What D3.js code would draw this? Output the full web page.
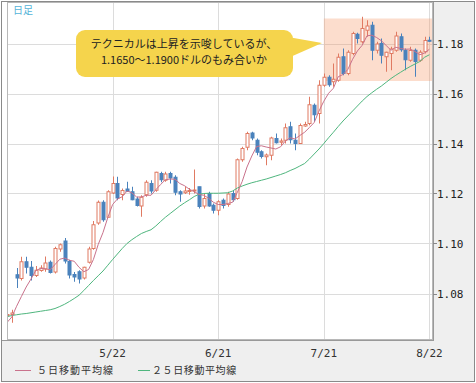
<!DOCTYPE html>
<html><head><meta charset="utf-8">
<script src="https://cdn.jsdelivr.net/npm/d3@7"></script>
<style>html,body{margin:0;padding:0;background:#fff}svg{display:block}</style>
</head><body>
<script>
const dates = ["4/20","4/21","4/24","4/25","4/26","4/27","4/28","5/1","5/2","5/3","5/4","5/5","5/8","5/9","5/10","5/11","5/12","5/15","5/16","5/17","5/18","5/19","5/22","5/23","5/24","5/25","5/26","5/29","5/30","5/31","6/1","6/2","6/5","6/6","6/7","6/8","6/9","6/12","6/13","6/14","6/15","6/16","6/19","6/20","6/21","6/22","6/23","6/26","6/27","6/28","6/29","6/30","7/3","7/4","7/5","7/6","7/7","7/10","7/11","7/12","7/13","7/14","7/17","7/18","7/19","7/20","7/21","7/24","7/25","7/26","7/27","7/28","7/31","8/1","8/2","8/3","8/4","8/7","8/8","8/9","8/10","8/11","8/14","8/15","8/16","8/17","8/18","8/21","8/22"];
const opens = [1.0712,1.0716,1.0875,1.0860,1.0927,1.0905,1.0872,1.0892,1.0898,1.0925,1.0886,1.0978,1.1010,1.0928,1.0876,1.0887,1.0862,1.0925,1.0980,1.1082,1.1165,1.1105,1.1202,1.1240,1.1196,1.1218,1.1207,1.1178,1.1150,1.1195,1.1240,1.1213,1.1280,1.1253,1.1280,1.1265,1.1207,1.1203,1.1208,1.1210,1.1227,1.1150,1.1200,1.1153,1.1133,1.1173,1.1156,1.1200,1.1180,1.1335,1.1385,1.1442,1.1413,1.1367,1.1347,1.1353,1.1420,1.1405,1.1413,1.1467,1.1413,1.1400,1.1470,1.1480,1.1553,1.1520,1.1633,1.1665,1.1647,1.1653,1.1747,1.1680,1.1760,1.1837,1.1807,1.1853,1.1873,1.1773,1.1800,1.1747,1.1760,1.1773,1.1827,1.1773,1.1733,1.1773,1.1733,1.1767,1.1813];
const highs = [1.0775,1.0735,1.0902,1.0947,1.0947,1.0930,1.0910,1.0913,1.0948,1.0932,1.0987,1.1000,1.1022,1.0935,1.0886,1.0893,1.0907,1.0987,1.1090,1.1172,1.1173,1.1213,1.1268,1.1267,1.1220,1.1247,1.1227,1.1187,1.1193,1.1253,1.1253,1.1287,1.1287,1.1287,1.1287,1.1273,1.1213,1.1227,1.1222,1.1296,1.1227,1.1200,1.1207,1.1160,1.1173,1.1180,1.1207,1.1213,1.1340,1.1387,1.1447,1.1447,1.1420,1.1373,1.1360,1.1427,1.1440,1.1420,1.1480,1.1487,1.1440,1.1480,1.1487,1.1587,1.1560,1.1653,1.1680,1.1673,1.1720,1.1760,1.1780,1.1773,1.1847,1.1843,1.1907,1.1893,1.1887,1.1807,1.1820,1.1767,1.1787,1.1847,1.1840,1.1780,1.1787,1.1780,1.1773,1.1827,1.1827];
const lows = [1.0702,1.0683,1.0822,1.0852,1.0880,1.0852,1.0866,1.0887,1.0887,1.0880,1.0880,1.0967,1.0920,1.0860,1.0847,1.0840,1.0856,1.0920,1.0975,1.1075,1.1087,1.1105,1.1198,1.1173,1.1173,1.1207,1.1173,1.1148,1.1107,1.1187,1.1200,1.1207,1.1245,1.1247,1.1240,1.1193,1.1167,1.1198,1.1195,1.1200,1.1140,1.1140,1.1147,1.1120,1.1113,1.1140,1.1147,1.1167,1.1175,1.1327,1.1373,1.1413,1.1353,1.1340,1.1313,1.1333,1.1400,1.1393,1.1400,1.1400,1.1373,1.1400,1.1467,1.1473,1.1487,1.1480,1.1627,1.1627,1.1627,1.1647,1.1673,1.1673,1.1753,1.1800,1.1800,1.1827,1.1733,1.1760,1.1720,1.1687,1.1693,1.1767,1.1767,1.1693,1.1727,1.1667,1.1727,1.1760,1.1807];
const closes = [1.0716,1.0722,1.0862,1.0927,1.0905,1.0872,1.0893,1.0902,1.0922,1.0884,1.0980,1.0995,1.0930,1.0874,1.0866,1.0858,1.0905,1.0978,1.1075,1.1165,1.1095,1.1207,1.1240,1.1182,1.1212,1.1208,1.1175,1.1152,1.1185,1.1245,1.1210,1.1285,1.1255,1.1278,1.1262,1.1205,1.1198,1.1210,1.1212,1.1214,1.1148,1.1180,1.1150,1.1133,1.1167,1.1152,1.1198,1.1175,1.1335,1.1380,1.1440,1.1422,1.1365,1.1348,1.1354,1.1422,1.1403,1.1410,1.1463,1.1415,1.1400,1.1472,1.1476,1.1555,1.1515,1.1633,1.1665,1.1635,1.1657,1.1745,1.1680,1.1765,1.1840,1.1820,1.1860,1.1870,1.1773,1.1798,1.1753,1.1765,1.1778,1.1830,1.1775,1.1735,1.1772,1.1728,1.1765,1.1812,1.1810];
const ma5 = [1.0684,1.0706,1.0749,1.0788,1.0826,1.0858,1.0892,1.0900,1.0899,1.0895,1.0916,1.0937,1.0942,1.0933,1.0929,1.0905,1.0887,1.0896,1.0936,1.0996,1.1044,1.1104,1.1156,1.1178,1.1187,1.1210,1.1203,1.1186,1.1186,1.1193,1.1193,1.1215,1.1236,1.1255,1.1258,1.1257,1.1240,1.1231,1.1217,1.1208,1.1196,1.1193,1.1181,1.1165,1.1156,1.1156,1.1160,1.1165,1.1205,1.1248,1.1306,1.1350,1.1388,1.1391,1.1386,1.1382,1.1378,1.1387,1.1410,1.1423,1.1418,1.1432,1.1445,1.1464,1.1484,1.1530,1.1569,1.1601,1.1621,1.1667,1.1676,1.1696,1.1737,1.1770,1.1793,1.1831,1.1833,1.1824,1.1811,1.1792,1.1773,1.1785,1.1780,1.1777,1.1778,1.1768,1.1755,1.1762,1.1777];
const ma25 = [1.0707,1.0712,1.0715,1.0718,1.0720,1.0723,1.0726,1.0729,1.0732,1.0735,1.0740,1.0748,1.0757,1.0768,1.0780,1.0793,1.0812,1.0832,1.0852,1.0871,1.0890,1.0913,1.0936,1.0958,1.0980,1.1000,1.1015,1.1028,1.1040,1.1048,1.1055,1.1070,1.1088,1.1105,1.1120,1.1135,1.1150,1.1163,1.1175,1.1188,1.1197,1.1200,1.1201,1.1201,1.1201,1.1202,1.1203,1.1210,1.1222,1.1230,1.1237,1.1243,1.1248,1.1253,1.1258,1.1264,1.1270,1.1276,1.1283,1.1292,1.1300,1.1310,1.1320,1.1338,1.1358,1.1378,1.1400,1.1423,1.1445,1.1468,1.1490,1.1510,1.1530,1.1550,1.1570,1.1588,1.1603,1.1617,1.1630,1.1645,1.1660,1.1673,1.1685,1.1697,1.1708,1.1718,1.1728,1.1745,1.1755];
const tickDates = ["5/22","6/21","7/21","8/22"];
const yTicks = [1.08,1.10,1.12,1.14,1.16,1.18];
const bandRange = [1.165, 1.19];
const bandStart = "7/21";
const noteLines = ["テクニカルは上昇を示唆しているが、","1.1650～1.1900ドルのもみ合いか"];
const periodLabel = "日足";
const legendLabels = ["５日移動平均線","２５日移動平均線"];

const W = 476, H = 383;
const L = 7, R = 433, T = 2, B = 340;
const upColor = "#e07a62", downColor = "#4a82bc";
const ma5Color = "#c9728c", ma25Color = "#4fb67e";

const svg = d3.select("body").append("svg").attr("width", W).attr("height", H);

// panels
svg.append("rect").attr("x",1.5).attr("y",1.5).attr("width",W-3).attr("height",H-3).attr("fill","#fff").attr("stroke","#8a8a8a");
svg.append("rect").attr("x",R).attr("y",2).attr("width",W-2-R).attr("height",B-2).attr("fill","#efefef");
svg.append("rect").attr("x",2).attr("y",B).attr("width",W-4).attr("height",H-2-B).attr("fill","#efefef");

const x = d3.scalePoint().domain(dates).range([7, 429.4]);
const y = d3.scaleLinear().domain([1.08, 1.18]).range([293.5, 43.5]);

svg.append("defs").append("clipPath").attr("id","clip")
  .append("rect").attr("x",L).attr("y",T).attr("width",R-L).attr("height",B-T);

// grid
const grid = svg.append("g");
grid.selectAll("line.h").data(yTicks).join("line")
  .attr("x1",L).attr("x2",R).attr("y1",d=>Math.round(y(d))+0.5).attr("y2",d=>Math.round(y(d))+0.5)
  .attr("stroke","#dcdcdc");
grid.selectAll("line.v").data(tickDates).join("line")
  .attr("x1",d=>Math.round(x(d))+0.5).attr("x2",d=>Math.round(x(d))+0.5).attr("y1",T).attr("y2",B)
  .attr("stroke","#dcdcdc");

const plot = svg.append("g").attr("clip-path","url(#clip)");

// highlight band
plot.append("rect")
  .attr("x", x(bandStart)).attr("width", R - x(bandStart))
  .attr("y", y(bandRange[1])).attr("height", y(bandRange[0]) - y(bandRange[1]))
  .attr("fill", "rgba(245,150,100,0.32)");

const idx = d3.range(dates.length);
// wicks
plot.selectAll("line.wick").data(idx).join("line")
  .attr("x1", i=>Math.round(x(dates[i]))+0.5).attr("x2", i=>Math.round(x(dates[i]))+0.5)
  .attr("y1", i=>y(highs[i])).attr("y2", i=>y(lows[i]))
  .attr("stroke", i=> closes[i] >= opens[i] ? upColor : downColor).attr("stroke-width",1);
// bodies
plot.selectAll("rect.body").data(idx).join("rect")
  .attr("x", i=>Math.round(x(dates[i]))-1)
  .attr("width", 3)
  .attr("y", i=>y(Math.max(opens[i],closes[i])))
  .attr("height", i=>Math.max(1, Math.abs(y(opens[i])-y(closes[i]))))
  .attr("fill", i=> closes[i] >= opens[i] ? "#fff" : downColor)
  .attr("stroke", i=> closes[i] >= opens[i] ? upColor : downColor)
  .attr("stroke-width",1);

const line = arr => d3.line().x((d,i)=>x(dates[i])).y(d=>y(d))(arr);
plot.append("path").attr("d", line(ma25)).attr("fill","none").attr("stroke",ma25Color).attr("stroke-width",1);
plot.append("path").attr("d", line(ma5)).attr("fill","none").attr("stroke",ma5Color).attr("stroke-width",1);

// frame
svg.append("rect").attr("x",L+0.5).attr("y",T+0.5).attr("width",R-L-1).attr("height",B-T-1)
  .attr("fill","none").attr("stroke","#b8b8b8");
svg.append("line").attr("x1",R+0.5).attr("x2",R+0.5).attr("y1",T).attr("y2",B+1).attr("stroke","#999");
svg.append("line").attr("x1",2).attr("x2",R+1).attr("y1",B+0.5).attr("y2",B+0.5).attr("stroke","#999");

// y axis labels
const ya = svg.append("g");
ya.selectAll("line").data(yTicks).join("line")
  .attr("x1",R).attr("x2",R+4).attr("y1",d=>Math.round(y(d))+0.5).attr("y2",d=>Math.round(y(d))+0.5).attr("stroke","#888");
ya.selectAll("text").data(yTicks).join("text")
  .attr("x",R+4).attr("y",d=>y(d)+4)
  .attr("font-family","'DejaVu Sans Mono', monospace").attr("font-size",11).attr("fill","#222")
  .text(d=>d3.format(".2f")(d));

// x labels
svg.append("g").selectAll("text").data(tickDates).join("text")
  .attr("x",d=>x(d)).attr("y",357).attr("text-anchor","middle")
  .attr("font-family","'DejaVu Sans Mono', monospace").attr("font-size",11).attr("fill","#333")
  .text(d=>d);

// legend
const lg = svg.append("g").attr("font-family","'Noto Sans CJK JP', sans-serif").attr("font-size",10).attr("fill","#333");
lg.append("line").attr("x1",15).attr("x2",31).attr("y1",370.5).attr("y2",370.5).attr("stroke",ma5Color);
lg.append("text").attr("x",37).attr("y",374).attr("letter-spacing",1).text(legendLabels[0]);
lg.append("line").attr("x1",138).attr("x2",150).attr("y1",370.5).attr("y2",370.5).attr("stroke",ma25Color);
lg.append("text").attr("x",152).attr("y",374).attr("letter-spacing",0.6).text(legendLabels[1]);

// period label
svg.append("text").attr("x",13).attr("y",14).attr("font-family","'Noto Sans CJK JP', sans-serif")
  .attr("font-size",10).attr("fill","#55b3d8").text(periodLabel);

// callout
const callout = svg.append("g");
callout.append("path").attr("d","M288,37 L322,43 L288,58 Z").attr("fill","#f5d44c");
callout.append("rect").attr("x",76).attr("y",30).attr("width",217).attr("height",47).attr("rx",9).attr("fill","#f5d44c");
callout.selectAll("text").data(noteLines).join("text")
  .attr("x",184).attr("y",(d,i)=>48+i*16).attr("text-anchor","middle")
  .attr("font-family","'Noto Sans CJK JP', sans-serif").attr("font-size",11).attr("fill","#222")
  .text(d=>d);
</script>
</body></html>
